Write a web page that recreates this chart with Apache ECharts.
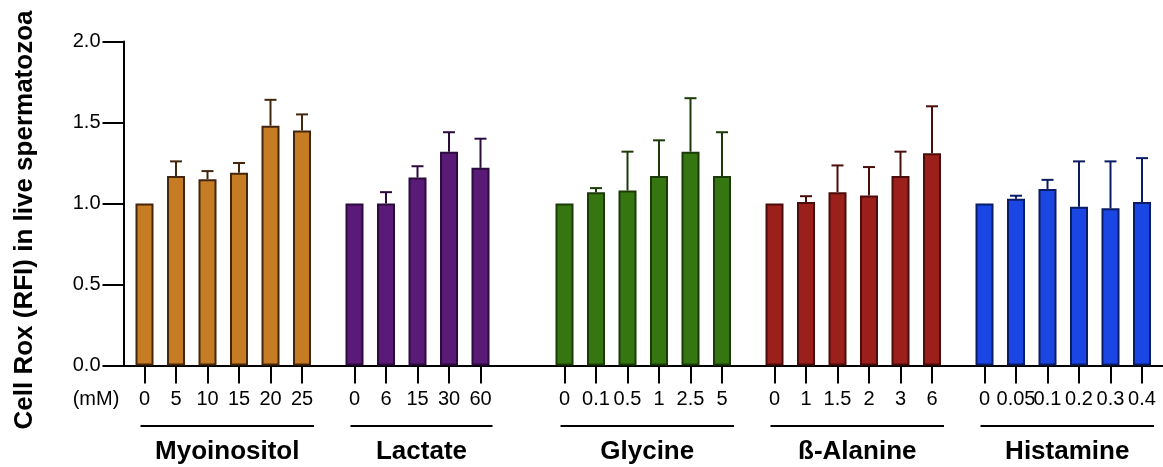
<!DOCTYPE html>
<html>
<head>
<meta charset="utf-8">
<script src="https://cdn.jsdelivr.net/npm/echarts@6/dist/echarts.min.js"></script>
<style>html,body{margin:0;padding:0;background:#fff;}#c{width:1163px;height:467px;}</style>
</head>
<body>
<div id="c"></div>
<script>
// ---- data ----
const groupNames = ['Myoinositol', 'Lactate', 'Glycine', 'ß-Alanine', 'Histamine'];
const myoDoses = ['0', '5', '10', '15', '20', '25'];
const myoMeans = [1.00, 1.17, 1.15, 1.19, 1.48, 1.45];
const myoErr   = [0, 0.09, 0.05, 0.06, 0.16, 0.10];
const lacDoses = ['0', '6', '15', '30', '60'];
const lacMeans = [1.00, 1.00, 1.16, 1.32, 1.22];
const lacErr   = [0, 0.07, 0.07, 0.12, 0.18];
const glyDoses = ['0', '0.1', '0.5', '1', '2.5', '5'];
const glyMeans = [1.00, 1.07, 1.08, 1.17, 1.32, 1.17];
const glyErr   = [0, 0.025, 0.24, 0.22, 0.33, 0.27];
const alaDoses = ['0', '1', '1.5', '2', '3', '6'];
const alaMeans = [1.00, 1.01, 1.07, 1.05, 1.17, 1.31];
const alaErr   = [0, 0.035, 0.165, 0.175, 0.15, 0.29];
const hisDoses = ['0', '0.05', '0.1', '0.2', '0.3', '0.4'];
const hisMeans = [1.00, 1.03, 1.09, 0.98, 0.97, 1.01];
const hisErr   = [0, 0.018, 0.056, 0.28, 0.29, 0.27];
const yTicks = [0, 0.5, 1.0, 1.5, 2.0];

// ---- styling / layout ----
const fills   = ['#C67B25', '#5A1A78', '#357611', '#9B1F1B', '#1A46E3'];
const borders = ['#43260C', '#2C0B3E', '#1A3A08', '#4A0D0B', '#0A1C63'];
const FONT = '"Liberation Sans", Arial, Helvetica, sans-serif';
const groupDoses = [myoDoses, lacDoses, glyDoses, alaDoses, hisDoses];
const groupMeans = [myoMeans, lacMeans, glyMeans, alaMeans, hisMeans];
const groupErr   = [myoErr, lacErr, glyErr, alaErr, hisErr];
const STEP = 3;                 // slots between bars within a group
const gapAfter = [5, 8, 5, 5];  // slots between last bar of a group and first of next
const LEAD = 2, SLOTS = 100;

const cats = [], labels = [], barData = [], errData = [], grpData = [];
for (let i = 0; i < SLOTS; i++) { cats.push('s' + i); labels.push(''); barData.push('-'); }
let pos = LEAD;
groupDoses.forEach((doses, g) => {
  const first = pos;
  doses.forEach((d, i) => {
    labels[pos] = d;
    barData[pos] = { value: groupMeans[g][i], itemStyle: { color: fills[g], borderColor: borders[g], borderWidth: 2 } };
    if (groupErr[g][i] > 0) errData.push([pos, groupMeans[g][i], groupMeans[g][i] + groupErr[g][i], g]);
    if (i < doses.length - 1) pos += STEP;
  });
  grpData.push([first, pos, 0, g]);
  if (g < gapAfter.length) pos += gapAfter[g];
});

const chart = echarts.init(document.getElementById('c'), null, { renderer: 'canvas' });
chart.setOption({
  animation: false,
  backgroundColor: '#fff',
  textStyle: { fontFamily: FONT },
  grid: { left: 123.5, top: 41.5, width: 1044.5, bottom: 101.5, containLabel: false },
  xAxis: {
    type: 'category',
    data: cats,
    boundaryGap: false,
    axisLine: { lineStyle: { color: '#000', width: 2 } },
    axisTick: { length: 18, lineStyle: { color: '#000', width: 2 }, interval: (i) => labels[i] !== '' },
    axisLabel: { interval: (i) => labels[i] !== '', formatter: (v, i) => labels[i], color: '#000', fontSize: 20, fontFamily: FONT, margin: 24, hideOverlap: false },
    splitLine: { show: false }
  },
  yAxis: {
    type: 'value',
    min: yTicks[0], max: yTicks[yTicks.length - 1], interval: 0.5,
    axisLine: { show: true, lineStyle: { color: '#000', width: 2 } },
    axisTick: { show: true, length: 21, lineStyle: { color: '#000', width: 2 } },
    axisLabel: { formatter: (v) => v.toFixed(1), color: '#000', fontSize: 20, fontFamily: FONT, margin: 23 },
    splitLine: { show: false }
  },
  graphic: [
    { type: 'text', x: 25, y: 220, rotation: Math.PI / 2,
      style: { text: 'Cell Rox (RFI) in live spermatozoa', fontSize: 26, fontWeight: 'bold', fontFamily: FONT, fill: '#000', align: 'center', verticalAlign: 'middle' } },
    { type: 'text', x: 96, y: 399,
      style: { text: '(mM)', fontSize: 20, fontFamily: FONT, fill: '#000', align: 'center', verticalAlign: 'middle' } }
  ],
  series: [
    { type: 'bar', data: barData, barWidth: 18, z: 2 },
    {
      type: 'custom', data: errData, encode: { x: 0, y: [1, 2] }, z: 1, clip: false,
      renderItem: (params, api) => {
        const x = api.value(0);
        const p0 = api.coord([x, api.value(1)]);
        const p1 = api.coord([x, api.value(2)]);
        const c = borders[api.value(3)];
        return { type: 'group', children: [
          { type: 'line', shape: { x1: p0[0], y1: p0[1], x2: p1[0], y2: p1[1] }, style: { stroke: c, lineWidth: 2 } },
          { type: 'line', shape: { x1: p1[0] - 6, y1: p1[1], x2: p1[0] + 6, y2: p1[1] }, style: { stroke: c, lineWidth: 2 } }
        ] };
      }
    },
    {
      type: 'custom', data: grpData, encode: { x: [0, 1], y: 2 }, clip: false, silent: true,
      renderItem: (params, api) => {
        const a = api.coord([api.value(0), 0]);
        const b = api.coord([api.value(1), 0]);
        const x1 = a[0] - 4, x2 = b[0] + 12;
        const y0 = a[1];
        return { type: 'group', children: [
          { type: 'line', shape: { x1: x1, y1: y0 + 60.5, x2: x2, y2: y0 + 60.5 }, style: { stroke: '#000', lineWidth: 2 } },
          { type: 'text', x: (x1 + x2) / 2, y: y0 + 86,
            style: { text: groupNames[api.value(3)], fontSize: 26, fontWeight: 'bold', fontFamily: FONT, fill: '#000', align: 'center', verticalAlign: 'middle' } }
        ] };
      }
    }
  ]
});
</script>
</body>
</html>
